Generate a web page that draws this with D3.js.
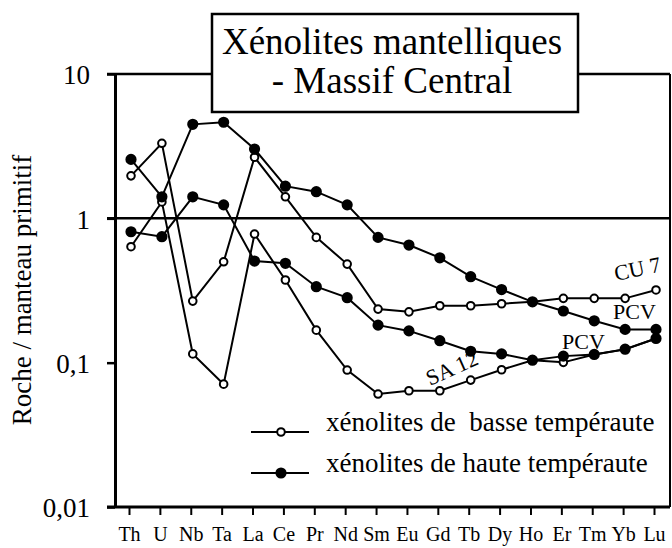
<!DOCTYPE html>
<html>
<head>
<meta charset="utf-8">
<script src="https://cdn.jsdelivr.net/npm/d3@7"></script>
<style>
  html, body { margin: 0; padding: 0; background: #fff; }
  svg { display: block; }
</style>
</head>
<body>
<svg id="chart" width="672" height="548"></svg>
<script>
// Elements normalised to primitive mantle
const elements = ["Th","U","Nb","Ta","La","Ce","Pr","Nd","Sm","Eu","Gd","Tb","Dy","Ho","Er","Tm","Yb","Lu"];

// Low-temperature xenoliths (open symbols)
const cu7  = [1.97, 3.31, 0.267, 0.50, 2.65, 1.41, 0.738, 0.482, 0.235, 0.225, 0.248, 0.248, 0.256, 0.264, 0.279, 0.279, 0.279, 0.319];
const sa12 = [0.636, 1.30, 0.115, 0.071, 0.778, 0.374, 0.168, 0.0889, 0.0606, 0.0639, 0.0639, 0.0757, 0.0893, 0.104, 0.1005, 0.114, 0.1236, 0.147];

// High-temperature xenoliths (filled symbols)
const pcvA = [2.56, 1.41, 4.48, 4.63, 3.02, 1.67, 1.53, 1.24, 0.738, 0.653, 0.533, 0.394, 0.321, 0.264, 0.228, 0.195, 0.170, 0.170];
const pcvB = [0.807, 0.746, 1.41, 1.24, 0.506, 0.488, 0.336, 0.282, 0.182, 0.166, 0.142, 0.120, 0.115, 0.104, 0.111, 0.114, 0.124, 0.147];

const yTicks = [10, 1, 0.1, 0.01];
const yTickLabels = ["10", "1", "0,1", "0,01"];

const titleLines = ["X\u00e9nolites mantelliques", "- Massif Central"];
const legendLabels = ["x\u00e9nolites de\u00a0 basse temp\u00e9raute", "x\u00e9nolites de haute temp\u00e9raute"];

const series = [
  { values: cu7,  filled: false },
  { values: sa12, filled: false },
  { values: pcvA, filled: true },
  { values: pcvB, filled: true }
];

const FONT = "Liberation Serif";
const svg = d3.select("#chart");

const frame = { left: 115, right: 670, top: 74, bottom: 507 };

const x = d3.scalePoint().domain(elements).range([131, 656]);
const y = d3.scaleLog().domain([0.01, 10]).range([frame.bottom, frame.top]);

// Frame: top line, reference line at 1, right edge
svg.append("line")
  .attr("x1", 107).attr("x2", frame.right)
  .attr("y1", y(10)).attr("y2", y(10))
  .attr("stroke", "#000").attr("stroke-width", 2.5);
svg.append("line")
  .attr("x1", 107).attr("x2", frame.right)
  .attr("y1", y(1)).attr("y2", y(1))
  .attr("stroke", "#000").attr("stroke-width", 2.5);
svg.append("line")
  .attr("x1", frame.right).attr("x2", frame.right)
  .attr("y1", y(10)).attr("y2", y(0.01))
  .attr("stroke", "#000").attr("stroke-width", 2);

// Left axis
const yAxis = d3.axisLeft(y)
  .tickValues(yTicks)
  .tickFormat((d, i) => yTickLabels[i])
  .tickSize(8)
  .tickSizeOuter(0)
  .tickPadding(17);
const gy = svg.append("g")
  .attr("transform", `translate(${frame.left},0)`)
  .call(yAxis);
gy.select(".domain").attr("stroke-width", 3);
gy.selectAll(".tick line").attr("stroke-width", 2.5);
gy.selectAll(".tick text")
  .attr("font-family", FONT)
  .attr("font-size", 27)
  .attr("dy", "0.36em");

// Bottom axis
svg.append("line")
  .attr("x1", 107).attr("x2", frame.right)
  .attr("y1", frame.bottom).attr("y2", frame.bottom)
  .attr("stroke", "#000").attr("stroke-width", 3);
const xAxis = d3.axisBottom(x).tickSize(8).tickSizeOuter(0).tickPadding(12);
const gx = svg.append("g")
  .attr("transform", `translate(-2,${frame.bottom})`)
  .call(xAxis);
gx.select(".domain").remove();
gx.selectAll(".tick line").attr("stroke-width", 2);
gx.selectAll(".tick text")
  .attr("font-family", FONT)
  .attr("font-size", 20);

// Y axis title
svg.append("text")
  .attr("transform", "translate(31,290) rotate(-90)")
  .attr("text-anchor", "middle")
  .attr("font-family", FONT)
  .attr("font-size", 27)
  .text("Roche / manteau primitif");

// Series lines and markers
const line = d3.line()
  .x((d, i) => x(elements[i]))
  .y(d => y(d));

series.forEach(s => {
  svg.append("path")
    .datum(s.values)
    .attr("d", line)
    .attr("fill", "none")
    .attr("stroke", "#000")
    .attr("stroke-width", 2);
});
series.forEach(s => {
  svg.append("g").selectAll("circle")
    .data(s.values)
    .join("circle")
    .attr("cx", (d, i) => x(elements[i]))
    .attr("cy", d => y(d))
    .attr("r", s.filled ? 4.6 : 3.8)
    .attr("fill", s.filled ? "#000" : "#fff")
    .attr("stroke", "#000")
    .attr("stroke-width", 2);
});

// Sample labels
const labels = svg.append("g").attr("font-family", FONT).attr("font-size", 22);
labels.append("text").attr("transform", "translate(616,281) rotate(-12)").text("CU 7");
labels.append("text").attr("x", 613).attr("y", 319).text("PCV");
labels.append("text").attr("x", 562).attr("y", 349).text("PCV");
labels.append("text").attr("transform", "translate(430,386) rotate(-24)").text("SA 12");

// Legend
const legendRows = [
  { label: legendLabels[0], filled: false, y: 432 },
  { label: legendLabels[1], filled: true, y: 473 }
];
const lg = svg.append("g");
legendRows.forEach(it => {
  lg.append("line")
    .attr("x1", 251).attr("x2", 309)
    .attr("y1", it.y).attr("y2", it.y)
    .attr("stroke", "#000").attr("stroke-width", 2);
  lg.append("circle")
    .attr("cx", 281).attr("cy", it.y)
    .attr("r", it.filled ? 4.6 : 3.8)
    .attr("fill", it.filled ? "#000" : "#fff")
    .attr("stroke", "#000").attr("stroke-width", 2);
  lg.append("text")
    .attr("x", 326).attr("y", it.y - 1)
    .attr("font-family", FONT)
    .attr("font-size", 27)
    .text(it.label);
});

// Title box
svg.append("rect")
  .attr("x", 212).attr("y", 14)
  .attr("width", 366).attr("height", 98)
  .attr("fill", "#fff")
  .attr("stroke", "#000").attr("stroke-width", 2.5);
const title = svg.append("text")
  .attr("text-anchor", "middle")
  .attr("font-family", FONT)
  .attr("font-size", 37);
title.append("tspan").attr("x", 392).attr("y", 54).text(titleLines[0]);
title.append("tspan").attr("x", 392).attr("y", 93).text(titleLines[1]);
</script>
</body>
</html>
